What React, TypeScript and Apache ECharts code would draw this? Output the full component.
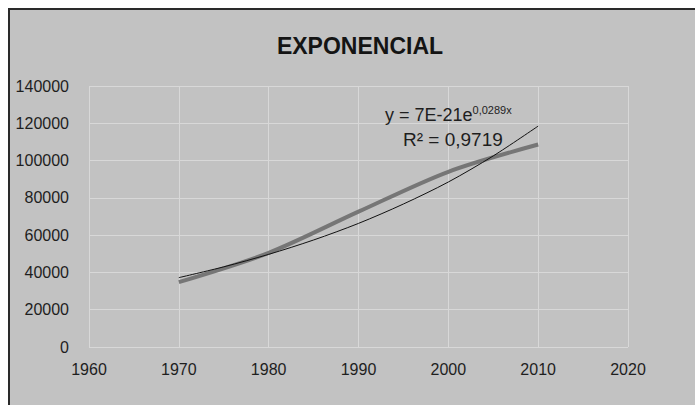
import React, { useEffect, useRef } from "react";
import * as echarts from "echarts";

const years = [1970, 1980, 1990, 2000, 2010];
const values = [34800, 50500, 72600, 94000, 108600];
const trendYears = [1970, 1975, 1980, 1985, 1990, 1995, 2000, 2005, 2010];
const trendValues = [37200, 43000, 49700, 57400, 66300, 76700, 88500, 102500, 118500];
const titleText = "EXPONENCIAL";
const equationText = "y = 7E-21e";
const exponentText = "0,0289x";
const r2Text = "R² = 0,9719";

export default function App() {
  const ref = useRef<HTMLDivElement>(null);
  useEffect(() => {
    if (!ref.current) return;
    const chart = echarts.init(ref.current, undefined, { renderer: "svg" });
    const font = "'Liberation Sans', Arial, sans-serif";
    chart.setOption({
      animation: false,
      backgroundColor: "#ffffff",
      graphic: [
        {
          type: "rect",
          z: -10,
          shape: { x: 9, y: 9, width: 700, height: 410 },
          style: { fill: "#c2c2c2", stroke: "#2a2a2a", lineWidth: 2 },
        },
        {
          type: "text",
          z: 100,
          left: 385,
          top: 104,
          style: {
            text: `{a|${equationText}}{b|${exponentText}}`,
            rich: {
              a: { fontSize: 18, fontFamily: font, fill: "#1e1e1e" },
              b: { fontSize: 11, fontFamily: font, fill: "#1e1e1e", padding: [0, 0, 10, 0] },
            },
          },
        },
        {
          type: "text",
          z: 100,
          left: 403,
          top: 130,
          style: { text: r2Text, fontSize: 19, fontFamily: font, fill: "#1e1e1e" },
        },
      ],
      title: {
        text: titleText,
        left: 355,
        top: 29,
        textAlign: "center",
        textStyle: { fontSize: 23, fontWeight: "bold", fontFamily: font, color: "#141414" },
      },
      grid: { left: 89, right: 67, top: 86, bottom: 58 },
      xAxis: {
        type: "value",
        min: 1960,
        max: 2020,
        interval: 10,
        axisLine: { show: false },
        axisTick: { show: false },
        axisLabel: { fontSize: 16, fontFamily: font, color: "#1e1e1e", margin: 14, formatter: (v: number) => String(v) },
        splitLine: { show: true, lineStyle: { color: "#d8d8d8", width: 1 } },
      },
      yAxis: {
        type: "value",
        min: 0,
        max: 140000,
        interval: 20000,
        axisLine: { show: false },
        axisTick: { show: false },
        axisLabel: { fontSize: 16, fontFamily: font, color: "#1e1e1e", margin: 20, formatter: (v: number) => String(v) },
        splitLine: { show: true, lineStyle: { color: "#d8d8d8", width: 1 } },
      },
      series: [
        {
          type: "line",
          data: years.map((y, i) => [y, values[i]]),
          smooth: 0.3,
          symbol: "none",
          lineStyle: { color: "#767676", width: 4 },
          z: 2,
        },
        {
          type: "line",
          data: trendYears.map((y, i) => [y, trendValues[i]]),
          smooth: 0.3,
          symbol: "none",
          lineStyle: { color: "#111111", width: 1 },
          z: 3,
        },
      ],
    });
    return () => chart.dispose();
  }, []);
  return (
    <div style={{ position: "fixed", left: 0, top: 0, width: 695, height: 405, background: "#fff" }}>
      <div ref={ref} style={{ width: 695, height: 405 }} />
    </div>
  );
}
